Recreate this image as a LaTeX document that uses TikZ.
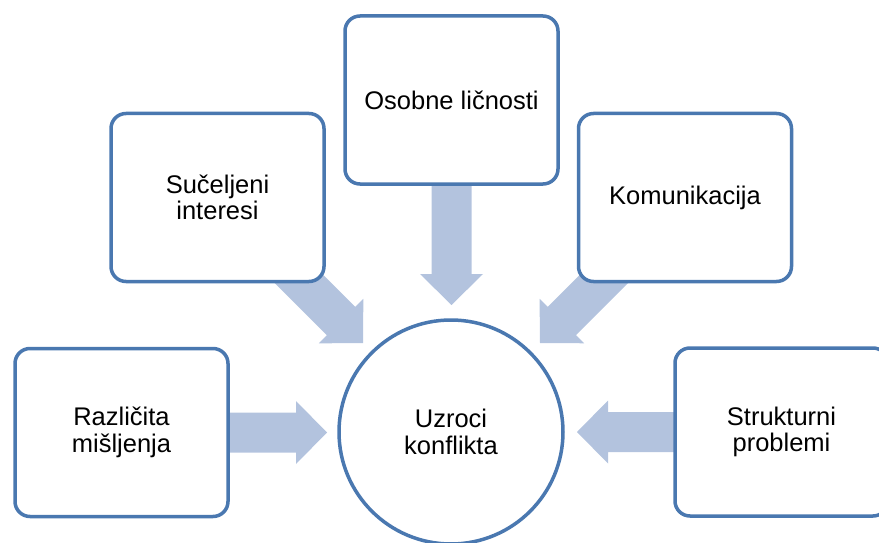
\documentclass[tikz,border=0pt]{standalone}
\usepackage{fontspec}
\setmainfont{Liberation Sans}
\usetikzlibrary{calc}
\definecolor{bordblue}{RGB}{74,120,176}
\definecolor{arrblue}{RGB}{179,195,222}
\pgfdeclarelayer{background}
\pgfsetlayers{background,main}
\newcommand\blockarr[2]{%
  \path coordinate (hb) at ($(#2)!31pt!(#1)$);
  \fill[arrblue] ($(#1)!20pt!90:(#2)$) -- ($(hb)!20pt!90:(#2)$) -- ($(hb)!31.5pt!90:(#2)$)
    -- (#2) -- ($(hb)!31.5pt!-90:(#2)$) -- ($(hb)!20pt!-90:(#2)$) -- ($(#1)!20pt!-90:(#2)$) -- cycle;
}
\begin{document}
\begin{tikzpicture}[x=1pt,y=-1pt,
  box/.style={draw=bordblue, line width=3.5pt, fill=white, rounded corners=15pt,
    minimum width=213pt, minimum height=168pt, align=center, inner sep=0pt,
    font=\fontsize{25.5}{26.5}\selectfont},
  hub/.style={circle, draw=bordblue, line width=3.5pt, fill=white, minimum size=224pt,
    align=center, inner sep=0pt, font=\fontsize{25.5}{26.5}\selectfont}]
\useasboundingbox (0,0) rectangle (879,543);
\node[hub] (c) at (451,432) {Uzroci\\konflikta};
\node[box] (top) at (451.5,100) {Osobne ličnosti};
\node[box] (tl) at (217.5,197.5) {Sučeljeni\\interesi};
\node[box] (tr) at (685,197.5) {Komunikacija};
\node[box] (bl) at (121.5,432.5) {Različita\\mišljenja};
\node[box] (br) at (781.5,432) {Strukturni\\problemi};
\coordinate (toptip) at (451.5,305);
\coordinate (tltip) at (363,343);
\coordinate (trtip) at (540,343);
\coordinate (bltip) at (327,432.5);
\coordinate (brtip) at (577,432);
\begin{pgfonlayer}{background}
\blockarr{top.center}{toptip}
\blockarr{tl.center}{tltip}
\blockarr{tr.center}{trtip}
\blockarr{bl.center}{bltip}
\blockarr{br.center}{brtip}
\end{pgfonlayer}
\end{tikzpicture}
\end{document}
